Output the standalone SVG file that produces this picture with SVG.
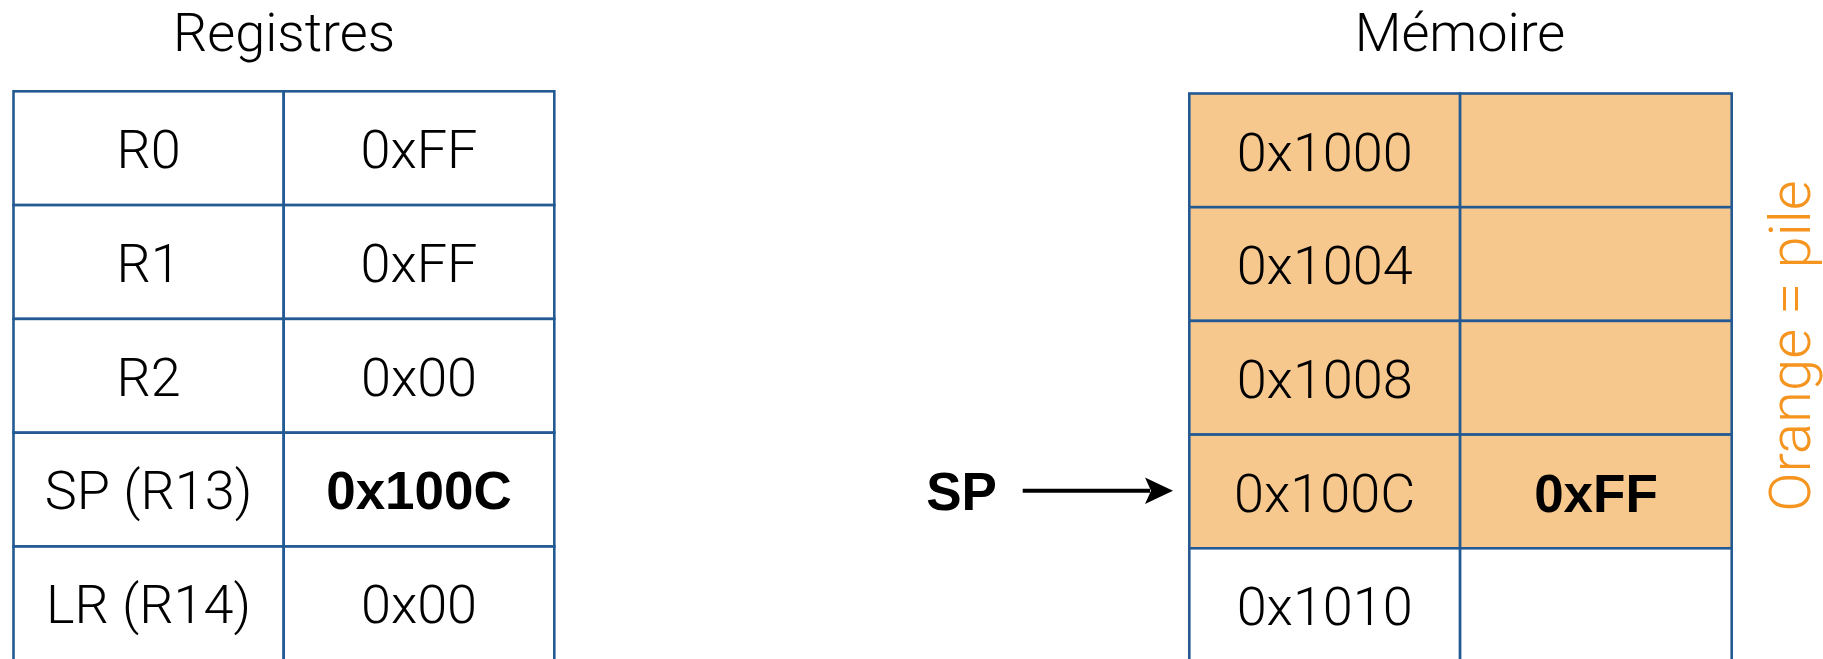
<svg xmlns="http://www.w3.org/2000/svg" width="1823" height="659" viewBox="0 0 1823 659">
<style>
.cell{stroke:#245a93;stroke-width:2.6;fill:#ffffff}
.stack{fill:#f7c88e}
.t{font-family:Roboto,"Liberation Sans",Arial,sans-serif;font-weight:300;font-size:54px;fill:#000;text-anchor:middle}
.b{font-family:"Liberation Sans",Arial,sans-serif;font-weight:bold;font-size:53px;fill:#000;text-anchor:middle}
.o{font-family:Roboto,"Liberation Sans",Arial,sans-serif;font-weight:300;font-size:58px;fill:#f5941f;text-anchor:middle}
</style>
<rect width="1823" height="659" fill="#ffffff"/>
<text class="t" x="284" y="51">Registres</text>
<text class="t" x="1460" y="51">Mémoire</text>

<g id="reg-r0"><rect class="cell" x="13.5" y="91.3" width="270.2" height="113.8"/><rect class="cell" x="283.7" y="91.3" width="270.6" height="113.8"/><text class="t" x="148.6" y="168">R0</text><text class="t" x="419" y="168">0xFF</text></g>
<g id="reg-r1"><rect class="cell" x="13.5" y="205.1" width="270.2" height="113.8"/><rect class="cell" x="283.7" y="205.1" width="270.6" height="113.8"/><text class="t" x="148.6" y="281.8">R1</text><text class="t" x="419" y="281.8">0xFF</text></g>
<g id="reg-r2"><rect class="cell" x="13.5" y="318.9" width="270.2" height="113.8"/><rect class="cell" x="283.7" y="318.9" width="270.6" height="113.8"/><text class="t" x="148.6" y="395.6">R2</text><text class="t" x="419" y="395.6">0x00</text></g>
<g id="reg-sp"><rect class="cell" x="13.5" y="432.7" width="270.2" height="113.8"/><rect class="cell" x="283.7" y="432.7" width="270.6" height="113.8"/><text class="t" x="148.6" y="509.4">SP (R13)</text><text class="b" x="419" y="509.4">0x100C</text></g>
<g id="reg-lr"><rect class="cell" x="13.5" y="546.5" width="270.2" height="120"/><rect class="cell" x="283.7" y="546.5" width="270.6" height="120"/><text class="t" x="148.6" y="623.2">LR (R14)</text><text class="t" x="419" y="623.2">0x00</text></g>

<g id="mem-1000"><rect class="cell stack" x="1189.3" y="93.5" width="270.8" height="113.7"/><rect class="cell stack" x="1460.1" y="93.5" width="271.6" height="113.7"/><text class="t" x="1324.7" y="170.5">0x1000</text></g>
<g id="mem-1004"><rect class="cell stack" x="1189.3" y="207.2" width="270.8" height="113.7"/><rect class="cell stack" x="1460.1" y="207.2" width="271.6" height="113.7"/><text class="t" x="1324.7" y="284.2">0x1004</text></g>
<g id="mem-1008"><rect class="cell stack" x="1189.3" y="320.9" width="270.8" height="113.7"/><rect class="cell stack" x="1460.1" y="320.9" width="271.6" height="113.7"/><text class="t" x="1324.7" y="397.9">0x1008</text></g>
<g id="mem-100C"><rect class="cell stack" x="1189.3" y="434.6" width="270.8" height="113.7"/><rect class="cell stack" x="1460.1" y="434.6" width="271.6" height="113.7"/><text class="t" x="1324.7" y="511.6">0x100C</text><text class="b" x="1596" y="511.6">0xFF</text></g>
<g id="mem-1010"><rect class="cell" x="1189.3" y="548.3" width="270.8" height="120"/><rect class="cell" x="1460.1" y="548.3" width="271.6" height="120"/><text class="t" x="1324.7" y="625.3">0x1010</text></g>

<g id="sp-label"><text class="b" x="961.5" y="510">SP</text></g>
<text class="o" transform="translate(1810 346) rotate(-90)" x="0" y="0">Orange = pile</text>

<g id="connectors">
<line x1="1022.7" y1="490.7" x2="1150" y2="490.7" stroke="#000" stroke-width="4"/>
<path d="M1173 490.7 L1145 477.5 L1151 490.7 L1145 504 Z" fill="#000"/>
</g>
</svg>
